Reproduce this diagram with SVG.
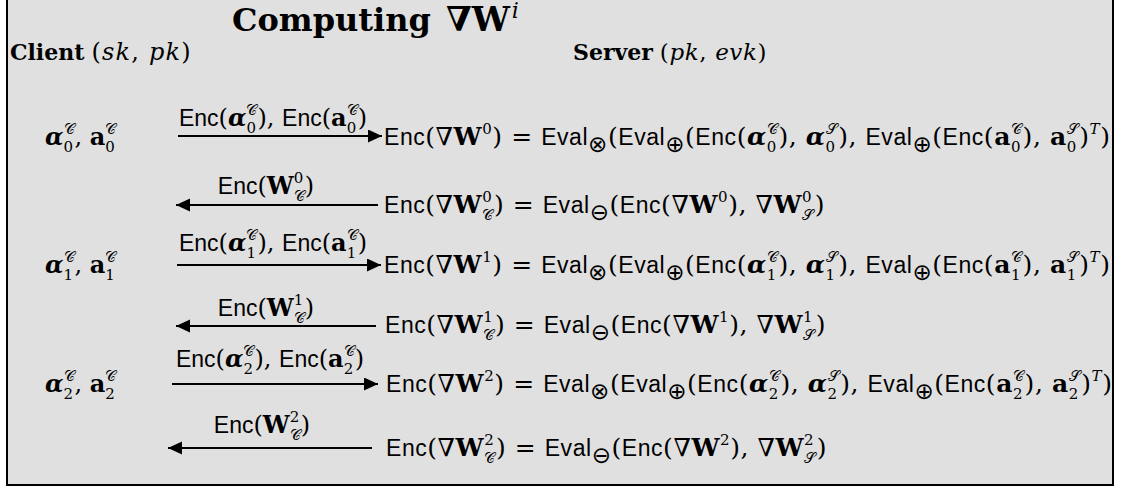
<svg xmlns="http://www.w3.org/2000/svg" width="1121" height="488" viewBox="0 0 1121 488">
  <style>
    .m{font-family:"DejaVu Serif","Liberation Serif",serif;font-size:24px;fill:#000}
    .eq{font-size:25px;letter-spacing:0.55px}
    .s{font-family:"Liberation Sans","DejaVu Sans",sans-serif;font-size:23px}
    .op{font-family:"DejaVu Sans",sans-serif;font-size:23px}
    .b{font-weight:bold}
    .bi{font-weight:bold;font-style:italic}
    .i{font-style:italic}
    .sc{font-size:15px}
    .lbl{text-anchor:middle}
    .wire{stroke:#000;stroke-width:2;fill:none}
  </style>
  <defs>
    <marker id="head" markerUnits="userSpaceOnUse" markerWidth="15" markerHeight="14" refX="14" refY="6.5" orient="auto">
      <path d="M0,0 L14,6.5 L0,13 Z" fill="#000"/>
    </marker>
  </defs>

  <!-- frame -->
  <rect x="7" y="-4" width="1106" height="489" fill="#e0e0e0" stroke="#000" stroke-width="2"/>

  <!-- headings -->
  <g id="title">
    <text x="232" y="31" class="m b" style="font-size:32px">Computing <tspan dx="4" style="font-size:34px">∇W</tspan><tspan class="i" style="font-weight:normal;font-size:22px" dx="2" dy="-13">i</tspan></text>
  </g>
  <g id="client">
    <text x="10" y="60" class="m" style="font-size:22px"><tspan class="b">Client</tspan> <tspan style="font-size:24px;letter-spacing:1.2px">(<tspan class="i">sk</tspan>, <tspan class="i">pk</tspan>)</tspan></text>
  </g>
  <g id="server">
    <text x="573" y="60" class="m" style="font-size:22px"><tspan class="b">Server</tspan> <tspan style="font-size:23px;letter-spacing:0.6px">(<tspan class="i">pk</tspan>, <tspan class="i">evk</tspan>)</tspan></text>
  </g>

  <!-- client-side values -->
  <g id="client-0"><text x="45" y="145" class="m"><tspan class="bi">α</tspan><tspan class="sc" dy="7">0</tspan><tspan class="sc" dx="-9.5" dy="-18">𝒞</tspan><tspan dy="11">, </tspan><tspan class="b">a</tspan><tspan class="sc" dy="7">0</tspan><tspan class="sc" dx="-9.5" dy="-18">𝒞</tspan></text></g>
  <g id="client-1"><text x="45" y="273" class="m"><tspan class="bi">α</tspan><tspan class="sc" dy="7">1</tspan><tspan class="sc" dx="-9.5" dy="-18">𝒞</tspan><tspan dy="11">, </tspan><tspan class="b">a</tspan><tspan class="sc" dy="7">1</tspan><tspan class="sc" dx="-9.5" dy="-18">𝒞</tspan></text></g>
  <g id="client-2"><text x="45" y="392" class="m"><tspan class="bi">α</tspan><tspan class="sc" dy="7">2</tspan><tspan class="sc" dx="-9.5" dy="-18">𝒞</tspan><tspan dy="11">, </tspan><tspan class="b">a</tspan><tspan class="sc" dy="7">2</tspan><tspan class="sc" dx="-9.5" dy="-18">𝒞</tspan></text></g>

  <!-- server-side computations -->
  <g id="server-0"><text x="384" y="145" class="m eq"><tspan class="s">Enc</tspan>(∇<tspan class="b">W</tspan><tspan class="sc" dy="-11">0</tspan><tspan dy="11">) = </tspan><tspan class="s">Eval</tspan><tspan class="op" dy="7">⊗</tspan><tspan dy="-7">(</tspan><tspan class="s">Eval</tspan><tspan class="op" dy="7">⊕</tspan><tspan dy="-7">(</tspan><tspan class="s">Enc</tspan>(<tspan class="bi">α</tspan><tspan class="sc" dy="7">0</tspan><tspan class="sc" dx="-10" dy="-18">𝒞</tspan><tspan dy="11">), </tspan><tspan class="bi">α</tspan><tspan class="sc" dy="7">0</tspan><tspan class="sc" dx="-10" dy="-18">𝒮</tspan><tspan dy="11">), </tspan><tspan class="s">Eval</tspan><tspan class="op" dy="7">⊕</tspan><tspan dy="-7">(</tspan><tspan class="s">Enc</tspan>(<tspan class="b">a</tspan><tspan class="sc" dy="7">0</tspan><tspan class="sc" dx="-10" dy="-18">𝒞</tspan><tspan dy="11">), </tspan><tspan class="b">a</tspan><tspan class="sc" dy="7">0</tspan><tspan class="sc" dx="-10" dy="-18">𝒮</tspan><tspan dy="11">)</tspan><tspan class="sc i" dy="-11">T</tspan><tspan dy="11">)</tspan></text></g>
  <g id="server-0b"><text x="384" y="213" class="m eq"><tspan class="s">Enc</tspan>(∇<tspan class="b">W</tspan><tspan class="sc" dy="-11">0</tspan><tspan class="sc" dx="-10" dy="18">𝒞</tspan><tspan dy="-7">) = </tspan><tspan class="s">Eval</tspan><tspan class="op" dy="7">⊖</tspan><tspan dy="-7">(</tspan><tspan class="s">Enc</tspan>(∇<tspan class="b">W</tspan><tspan class="sc" dy="-11">0</tspan><tspan dy="11">), ∇</tspan><tspan class="b">W</tspan><tspan class="sc" dy="-11">0</tspan><tspan class="sc" dx="-10" dy="18">𝒮</tspan><tspan dy="-7">)</tspan></text></g>

  <g id="server-1"><text x="384" y="273" class="m eq"><tspan class="s">Enc</tspan>(∇<tspan class="b">W</tspan><tspan class="sc" dy="-11">1</tspan><tspan dy="11">) = </tspan><tspan class="s">Eval</tspan><tspan class="op" dy="7">⊗</tspan><tspan dy="-7">(</tspan><tspan class="s">Eval</tspan><tspan class="op" dy="7">⊕</tspan><tspan dy="-7">(</tspan><tspan class="s">Enc</tspan>(<tspan class="bi">α</tspan><tspan class="sc" dy="7">1</tspan><tspan class="sc" dx="-10" dy="-18">𝒞</tspan><tspan dy="11">), </tspan><tspan class="bi">α</tspan><tspan class="sc" dy="7">1</tspan><tspan class="sc" dx="-10" dy="-18">𝒮</tspan><tspan dy="11">), </tspan><tspan class="s">Eval</tspan><tspan class="op" dy="7">⊕</tspan><tspan dy="-7">(</tspan><tspan class="s">Enc</tspan>(<tspan class="b">a</tspan><tspan class="sc" dy="7">1</tspan><tspan class="sc" dx="-10" dy="-18">𝒞</tspan><tspan dy="11">), </tspan><tspan class="b">a</tspan><tspan class="sc" dy="7">1</tspan><tspan class="sc" dx="-10" dy="-18">𝒮</tspan><tspan dy="11">)</tspan><tspan class="sc i" dy="-11">T</tspan><tspan dy="11">)</tspan></text></g>
  <g id="server-1b"><text x="385" y="333" class="m eq"><tspan class="s">Enc</tspan>(∇<tspan class="b">W</tspan><tspan class="sc" dy="-11">1</tspan><tspan class="sc" dx="-10" dy="18">𝒞</tspan><tspan dy="-7">) = </tspan><tspan class="s">Eval</tspan><tspan class="op" dy="7">⊖</tspan><tspan dy="-7">(</tspan><tspan class="s">Enc</tspan>(∇<tspan class="b">W</tspan><tspan class="sc" dy="-11">1</tspan><tspan dy="11">), ∇</tspan><tspan class="b">W</tspan><tspan class="sc" dy="-11">1</tspan><tspan class="sc" dx="-10" dy="18">𝒮</tspan><tspan dy="-7">)</tspan></text></g>

  <g id="server-2"><text x="386" y="392" class="m eq"><tspan class="s">Enc</tspan>(∇<tspan class="b">W</tspan><tspan class="sc" dy="-11">2</tspan><tspan dy="11">) = </tspan><tspan class="s">Eval</tspan><tspan class="op" dy="7">⊗</tspan><tspan dy="-7">(</tspan><tspan class="s">Eval</tspan><tspan class="op" dy="7">⊕</tspan><tspan dy="-7">(</tspan><tspan class="s">Enc</tspan>(<tspan class="bi">α</tspan><tspan class="sc" dy="7">2</tspan><tspan class="sc" dx="-10" dy="-18">𝒞</tspan><tspan dy="11">), </tspan><tspan class="bi">α</tspan><tspan class="sc" dy="7">2</tspan><tspan class="sc" dx="-10" dy="-18">𝒮</tspan><tspan dy="11">), </tspan><tspan class="s">Eval</tspan><tspan class="op" dy="7">⊕</tspan><tspan dy="-7">(</tspan><tspan class="s">Enc</tspan>(<tspan class="b">a</tspan><tspan class="sc" dy="7">2</tspan><tspan class="sc" dx="-10" dy="-18">𝒞</tspan><tspan dy="11">), </tspan><tspan class="b">a</tspan><tspan class="sc" dy="7">2</tspan><tspan class="sc" dx="-10" dy="-18">𝒮</tspan><tspan dy="11">)</tspan><tspan class="sc i" dy="-11">T</tspan><tspan dy="11">)</tspan></text></g>
  <g id="server-2b"><text x="386" y="456" class="m eq"><tspan class="s">Enc</tspan>(∇<tspan class="b">W</tspan><tspan class="sc" dy="-11">2</tspan><tspan class="sc" dx="-10" dy="18">𝒞</tspan><tspan dy="-7">) = </tspan><tspan class="s">Eval</tspan><tspan class="op" dy="7">⊖</tspan><tspan dy="-7">(</tspan><tspan class="s">Enc</tspan>(∇<tspan class="b">W</tspan><tspan class="sc" dy="-11">2</tspan><tspan dy="11">), ∇</tspan><tspan class="b">W</tspan><tspan class="sc" dy="-11">2</tspan><tspan class="sc" dx="-10" dy="18">𝒮</tspan><tspan dy="-7">)</tspan></text></g>

  <!-- messages -->
  <g id="connectors">
    <line class="wire" x1="178" y1="136" x2="382" y2="136" marker-end="url(#head)"/>
    <line class="wire" x1="378" y1="205" x2="176" y2="205" marker-end="url(#head)"/>
    <line class="wire" x1="177" y1="265" x2="381" y2="265" marker-end="url(#head)"/>
    <line class="wire" x1="376" y1="326" x2="176" y2="326" marker-end="url(#head)"/>
    <line class="wire" x1="172" y1="384" x2="378" y2="384" marker-end="url(#head)"/>
    <line class="wire" x1="372" y1="448" x2="168" y2="448" marker-end="url(#head)"/>
  </g>
  <g id="connector-labels">
    <text x="273" y="126" class="m lbl"><tspan class="s">Enc</tspan>(<tspan class="bi">α</tspan><tspan class="sc" dy="7">0</tspan><tspan class="sc" dx="-9.5" dy="-18">𝒞</tspan><tspan dy="11">), </tspan><tspan class="s">Enc</tspan>(<tspan class="b">a</tspan><tspan class="sc" dy="7">0</tspan><tspan class="sc" dx="-9.5" dy="-18">𝒞</tspan><tspan dy="11">)</tspan></text>
    <text x="266" y="194" class="m lbl"><tspan class="s">Enc</tspan>(<tspan class="b">W</tspan><tspan class="sc" dy="-11">0</tspan><tspan class="sc" dx="-9.5" dy="18">𝒞</tspan><tspan dy="-7">)</tspan></text>
    <text x="273" y="251" class="m lbl"><tspan class="s">Enc</tspan>(<tspan class="bi">α</tspan><tspan class="sc" dy="7">1</tspan><tspan class="sc" dx="-9.5" dy="-18">𝒞</tspan><tspan dy="11">), </tspan><tspan class="s">Enc</tspan>(<tspan class="b">a</tspan><tspan class="sc" dy="7">1</tspan><tspan class="sc" dx="-9.5" dy="-18">𝒞</tspan><tspan dy="11">)</tspan></text>
    <text x="266" y="316" class="m lbl"><tspan class="s">Enc</tspan>(<tspan class="b">W</tspan><tspan class="sc" dy="-11">1</tspan><tspan class="sc" dx="-9.5" dy="18">𝒞</tspan><tspan dy="-7">)</tspan></text>
    <text x="270" y="367" class="m lbl"><tspan class="s">Enc</tspan>(<tspan class="bi">α</tspan><tspan class="sc" dy="7">2</tspan><tspan class="sc" dx="-9.5" dy="-18">𝒞</tspan><tspan dy="11">), </tspan><tspan class="s">Enc</tspan>(<tspan class="b">a</tspan><tspan class="sc" dy="7">2</tspan><tspan class="sc" dx="-9.5" dy="-18">𝒞</tspan><tspan dy="11">)</tspan></text>
    <text x="262" y="433" class="m lbl"><tspan class="s">Enc</tspan>(<tspan class="b">W</tspan><tspan class="sc" dy="-11">2</tspan><tspan class="sc" dx="-9.5" dy="18">𝒞</tspan><tspan dy="-7">)</tspan></text>
  </g>
</svg>
